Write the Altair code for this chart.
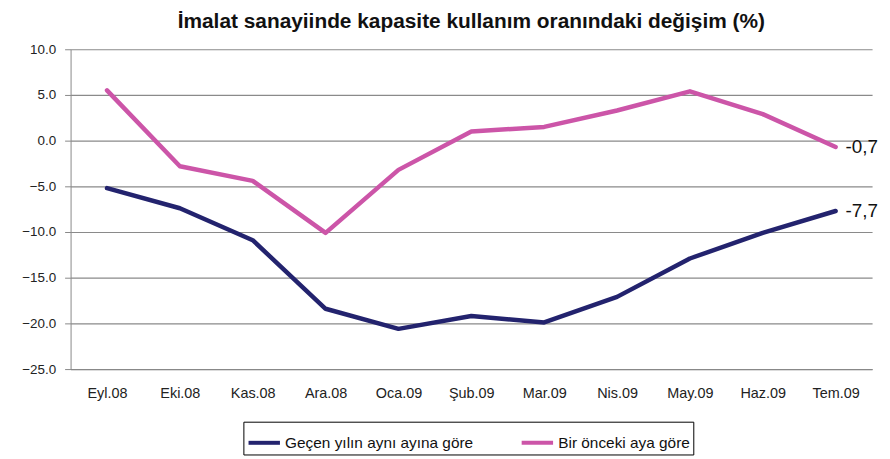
import altair as alt
import pandas as pd

months = ["Eyl.08", "Eki.08", "Kas.08", "Ara.08", "Oca.09", "Şub.09",
          "Mar.09", "Nis.09", "May.09", "Haz.09", "Tem.09"]
series_names = ["Geçen yılın aynı ayına göre", "Bir önceki aya göre"]
yoy = [-5.2, -7.4, -10.9, -18.4, -20.6, -19.2, -19.9, -17.1, -12.9, -10.1, -7.7]
mom = [5.5, -2.8, -4.4, -10.1, -3.2, 1.0, 1.5, 3.3, 5.4, 2.9, -0.7]
end_labels = ["-7,7", "-0,7"]

rows = []
for i, m in enumerate(months):
    rows.append({"month": m, "series": series_names[0], "value": yoy[i]})
    rows.append({"month": m, "series": series_names[1], "value": mom[i]})
df = pd.DataFrame(rows)

lab_df = pd.DataFrame({
    "month": [months[-1], months[-1]],
    "series": series_names,
    "value": [yoy[-1], mom[-1]],
    "label": end_labels,
})

FONT = "Liberation Sans"

x_enc = alt.X("month:N", sort=months,
              scale=alt.Scale(type="point", padding=0.5),
              axis=alt.Axis(title=None, labelAngle=0, ticks=False,
                            labelPadding=18, labelFontSize=14.5,
                            labelColor="#222222", labelFont=FONT,
                            domainColor="#888888", grid=False))
y_enc = alt.Y("value:Q",
              scale=alt.Scale(domain=[-25, 10], nice=False),
              axis=alt.Axis(title=None, values=[10, 5, 0, -5, -10, -15, -20, -25],
                            format=".1f", labelFontSize=13.5, labelColor="#222222",
                            labelFont=FONT, gridColor="#8a8a8a", gridWidth=1.2,
                            domainColor="#888888", tickColor="#888888",
                            tickSize=6, labelPadding=9))

color_scale = alt.Scale(domain=series_names, range=["#23236e", "#cc55a8"])

lines = alt.Chart(df).mark_line(strokeWidth=4.5, strokeCap="round", strokeJoin="round").encode(
    x=x_enc,
    y=y_enc,
    color=alt.Color("series:N", scale=color_scale, sort=series_names,
                    legend=alt.Legend(title=None, orient="none", direction="horizontal",
                                      legendX=174, legendY=375,
                                      symbolType="stroke", symbolStrokeWidth=4,
                                      symbolSize=1000, labelFontSize=15.5,
                                      labelFont=FONT, labelColor="#111111",
                                      labelOffset=3,
                                      strokeColor="#000000", fillColor="#ffffff",
                                      padding=3, columnPadding=40, labelLimit=300)),
)

labels = alt.Chart(lab_df).mark_text(align="left", dx=10, fontSize=19, font=FONT,
                                     color="#111111").encode(
    x=alt.X("month:N", sort=months, scale=alt.Scale(type="point", padding=0.5)),
    y=alt.Y("value:Q", scale=alt.Scale(domain=[-25, 10], nice=False)),
    text="label:N",
)

chart = alt.layer(lines, labels).properties(
    width=807, height=322,
    title=alt.Title("İmalat sanayiinde kapasite kullanım oranındaki değişim (%)",
                    fontSize=21, font=FONT, fontWeight="bold", color="#111111",
                    anchor="middle", offset=10),
    autosize=alt.AutoSizeParams(type="none"),
    padding={"left": 63, "top": 40, "right": 10, "bottom": 88},
    background="#ffffff",
).configure_view(stroke=None)

chart.save("out.html", embed_options={"renderer": "svg", "actions": False})
